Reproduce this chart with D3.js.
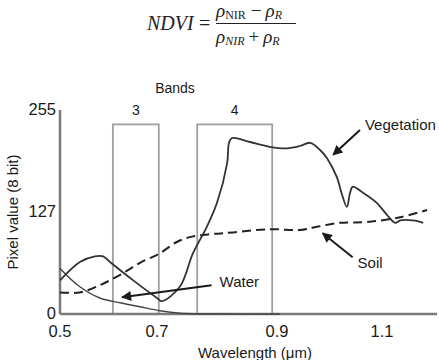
<!DOCTYPE html>
<html>
<head>
<meta charset="utf-8">
<script src="https://cdn.jsdelivr.net/npm/d3@7"></script>
<style>
  body { margin: 0; background: #fff; }
  svg { display: block; }
  .lbl { font-family: "Liberation Sans", Arial, sans-serif; fill: #1a1a1a; }
  .eq { font-family: "Liberation Serif", "Times New Roman", serif; fill: #222; }
</style>
</head>
<body>
<script>
//spectral curves, [wavelength um, pixel value]
var vegetation = [[0.50,42],[0.541,65],[0.572,72],[0.589,72],[0.603,65],[0.651,42],[0.70,20],[0.708,16],
    [0.738,34],[0.76,76],[0.783,109],[0.80,139],[0.817,189],[0.82,214],[0.825,220],[0.855,215],[0.888,209],
    [0.919,207],[0.944,210],[0.963,214],[0.982,205],[0.995,195],[1.014,171],[1.023,151],[1.033,134],
    [1.039,151],[1.044,159],[1.063,152],[1.09,139],[1.109,124],[1.124,114],[1.133,117],[1.156,117],[1.175,114]];
var water = [[0.50,57],[0.541,34],[0.582,20],[0.624,14],[0.665,9],[0.705,4],[0.738,1],[0.805,0],[0.906,0]];
var soil = [[0.50,27],[0.541,27],[0.582,36],[0.624,49],[0.665,64],[0.705,76],[0.733,90],[0.76,97],
    [0.793,100],[0.827,102],[0.888,106],[0.944,105],[0.976,109],[1.019,114],[1.071,115],[1.133,121],[1.182,130]];

//TM bands [name, from, to]
var bands = [["3",0.609,0.703],["4",0.767,0.892]];
var bandTop = 237;

var xTicks = [0.5,0.7,0.9,1.1];
var yTicks = [0,127,255];

//labels with arrows: [text, tail x, tail y, head x, head y]
var notes = [["Vegetation",1.058,230,1.007,199],["Soil",1.044,71,0.987,101],["Water",0.791,36,0.628,21]];

var width = 439, height = 360;

var svg = d3.select("body").append("svg")
    .attr("width", width)
    .attr("height", height);

svg.append("defs").append("marker")
    .attr("id", "head")
    .attr("viewBox", "0 0 10 10")
    .attr("refX", 9).attr("refY", 5)
    .attr("markerUnits", "userSpaceOnUse")
    .attr("markerWidth", 11).attr("markerHeight", 10)
    .attr("orient", "auto")
    .append("path")
    .attr("d", "M0,0 L10,5 L0,10 z")
    .attr("fill", "#1a1a1a");

//hand drawn x axis isn't evenly spaced
var x = d3.scaleLinear()
    .domain([0.5,0.7,0.9,1.1,1.2])
    .range([60,157,277,382,437]);
var y = d3.scaleLinear()
    .domain([0,255])
    .range([314,110]);

//NDVI formula
var eq = svg.append("g").attr("class", "eq");
eq.append("text").attr("x", 147).attr("y", 30).attr("font-size", 20).attr("font-style", "italic").text("NDVI");
eq.append("text").attr("x", 199).attr("y", 30).attr("font-size", 20).text("=");
eq.append("line").attr("x1", 216).attr("x2", 296).attr("y1", 23.5).attr("y2", 23.5)
    .attr("stroke", "#222").attr("stroke-width", 1);
var num = eq.append("text").attr("x", 216).attr("y", 17).attr("font-size", 19);
num.append("tspan").attr("font-style", "italic").text("ρ");
num.append("tspan").attr("font-size", 12).attr("dy", 2).text("NIR");
num.append("tspan").attr("dy", -2).attr("dx", 5).text("−");
num.append("tspan").attr("dx", 4).attr("font-style", "italic").text("ρ");
num.append("tspan").attr("font-size", 12).attr("dy", 2).attr("font-style", "italic").text("R");
var den = eq.append("text").attr("x", 216).attr("y", 43).attr("font-size", 19);
den.append("tspan").attr("font-style", "italic").text("ρ");
den.append("tspan").attr("font-size", 12).attr("dy", 2).attr("font-style", "italic").text("NIR");
den.append("tspan").attr("dy", -2).attr("dx", 4).text("+");
den.append("tspan").attr("dx", 4).attr("font-style", "italic").text("ρ");
den.append("tspan").attr("font-size", 12).attr("dy", 2).attr("font-style", "italic").text("R");

//band boxes
svg.selectAll(".band")
    .data(bands)
    .enter()
    .append("rect")
    .attr("class", "band")
    .attr("x", function(d){ return x(d[1]); })
    .attr("y", y(bandTop))
    .attr("width", function(d){ return x(d[2]) - x(d[1]); })
    .attr("height", y(0) - y(bandTop))
    .attr("fill", "none")
    .attr("stroke", "#a0a0a0")
    .attr("stroke-width", 1.8);

svg.selectAll(".bandNum")
    .data(bands)
    .enter()
    .append("text")
    .attr("class", "lbl")
    .attr("x", function(d){ return (x(d[1]) + x(d[2])) / 2; })
    .attr("y", y(bandTop) - 9)
    .attr("text-anchor", "middle")
    .attr("font-size", 14)
    .text(function(d){ return d[0]; });

svg.append("text").attr("class", "lbl")
    .attr("x", 175).attr("y", 93)
    .attr("text-anchor", "middle").attr("font-size", 14)
    .text("Bands");

//axes
svg.append("line").attr("x1", x(0.5)).attr("x2", x(1.2)).attr("y1", y(0)).attr("y2", y(0))
    .attr("stroke", "#7a7a7a").attr("stroke-width", 2.5);
svg.append("line").attr("x1", x(0.5)).attr("x2", x(0.5)).attr("y1", y(0)).attr("y2", y(255))
    .attr("stroke", "#7a7a7a").attr("stroke-width", 2.5);

svg.selectAll(".xt")
    .data(xTicks)
    .enter()
    .append("text")
    .attr("class", "lbl")
    .attr("x", function(d){ return x(d); })
    .attr("y", 337)
    .attr("text-anchor", "middle")
    .attr("font-size", 16.5)
    .text(function(d){ return d.toFixed(1); });

svg.selectAll(".yt")
    .data(yTicks)
    .enter()
    .append("text")
    .attr("class", "lbl")
    .attr("x", 56)
    .attr("y", function(d){ return y(d) + 4.5; })
    .attr("text-anchor", "end")
    .attr("font-size", 16.5)
    .text(function(d){ return d; });

svg.append("text").attr("class", "lbl")
    .attr("transform", "translate(18,212) rotate(-90)")
    .attr("text-anchor", "middle").attr("font-size", 15)
    .text("Pixel value (8 bit)");
svg.append("text").attr("class", "lbl")
    .attr("x", 255).attr("y", 358)
    .attr("text-anchor", "middle").attr("font-size", 15)
    .text("Wavelength (μm)");

//curves
var line = d3.line()
    .x(function(d){ return x(d[0]); })
    .y(function(d){ return y(d[1]); })
    .curve(d3.curveCatmullRom);

svg.append("path").datum(water).attr("d", line)
    .attr("fill", "none").attr("stroke", "#444").attr("stroke-width", 1.4);
svg.append("path").datum(soil).attr("d", line)
    .attr("fill", "none").attr("stroke", "#222").attr("stroke-width", 2)
    .attr("stroke-dasharray", "9,5");
svg.append("path").datum(vegetation).attr("d", line)
    .attr("fill", "none").attr("stroke", "#333").attr("stroke-width", 1.8);

//annotation arrows and names
svg.selectAll(".arrow")
    .data(notes)
    .enter()
    .append("line")
    .attr("x1", function(d){ return x(d[1]); })
    .attr("y1", function(d){ return y(d[2]); })
    .attr("x2", function(d){ return x(d[3]); })
    .attr("y2", function(d){ return y(d[4]); })
    .attr("stroke", "#1a1a1a")
    .attr("stroke-width", 2)
    .attr("marker-end", "url(#head)");

svg.selectAll(".note")
    .data(notes)
    .enter()
    .append("text")
    .attr("class", "lbl")
    .attr("x", function(d){ return x(d[1]) + (d[0] == "Water" ? 8 : 5); })
    .attr("y", function(d){ return y(d[2]) + (d[0] == "Vegetation" ? 0 : d[0] == "Soil" ? 11 : 2); })
    .attr("font-size", 15)
    .text(function(d){ return d[0]; });
</script>
</body>
</html>
